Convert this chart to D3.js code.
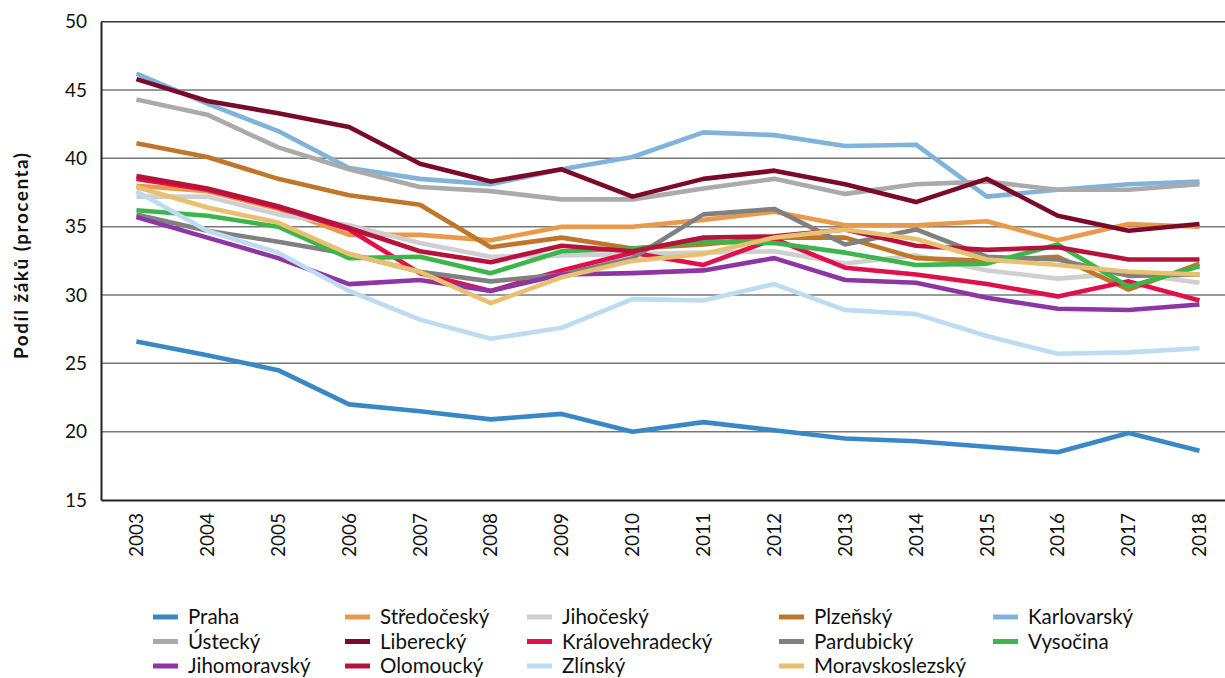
<!DOCTYPE html>
<html><head><meta charset="utf-8">
<script src="https://cdn.jsdelivr.net/npm/d3@7"></script>
<style>body{margin:0;background:#fff}svg{display:block}</style>
</head><body><svg id="c" width="1225" height="678"></svg>
<script>
const years = ["2003","2004","2005","2006","2007","2008","2009","2010","2011","2012","2013","2014","2015","2016","2017","2018"];
const yTicks = [15,20,25,30,35,40,45,50];
const regions = ["Praha","Středočeský","Jihočeský","Plzeňský","Karlovarský","Ústecký","Liberecký","Královehradecký","Pardubický","Vysočina","Jihomoravský","Olomoucký","Zlínský","Moravskoslezský"];
const colors = ["#3a87c6","#e8994a","#cfcfcf","#c0762a","#80b3dc","#aaaaaa","#7a0a2a","#e2104a","#808080","#3cb54b","#8e35a4","#b7123c","#bddbf1","#e8c070"];

const praha = [26.6,25.6,24.5,22.0,21.5,20.9,21.3,20.0,20.7,20.1,19.5,19.3,18.9,18.5,19.9,18.6];
const stredocesky = [38.0,37.6,36.3,34.4,34.4,34.0,35.0,35.0,35.5,36.1,35.1,35.1,35.4,34.0,35.2,35.0];
const jihocesky = [37.2,37.2,35.9,35.1,33.8,32.8,32.9,33.0,33.1,33.2,32.3,32.9,31.8,31.2,31.6,30.9];
const plzensky = [41.1,40.1,38.5,37.3,36.6,33.5,34.2,33.4,33.7,34.2,34.2,32.7,32.5,32.8,30.4,32.3];
const karlovarsky = [46.2,44.0,42.0,39.3,38.5,38.1,39.2,40.1,41.9,41.7,40.9,41.0,37.2,37.7,38.1,38.3];
const ustecky = [44.3,43.2,40.8,39.2,37.9,37.6,37.0,37.0,37.8,38.5,37.4,38.1,38.3,37.7,37.7,38.1];
const liberecky = [45.8,44.2,43.3,42.3,39.6,38.3,39.2,37.2,38.5,39.1,38.1,36.8,38.5,35.8,34.7,35.2];
const kralovehradecky = [38.5,37.7,36.4,34.8,31.6,30.3,31.8,33.1,32.2,34.1,32.0,31.5,30.8,29.9,31.0,29.6];
const pardubicky = [35.9,34.7,33.9,33.0,31.7,31.0,31.5,32.7,35.9,36.3,33.7,34.8,32.8,32.6,31.4,31.5];
const vysocina = [36.2,35.8,35.0,32.7,32.8,31.6,33.2,33.4,33.9,33.8,33.1,32.2,32.3,33.7,30.6,32.1];
const jihomoravsky = [35.7,34.2,32.7,30.8,31.1,30.3,31.5,31.6,31.8,32.7,31.1,30.9,29.8,29.0,28.9,29.3];
const olomoucky = [38.7,37.8,36.5,34.9,33.2,32.4,33.6,33.2,34.2,34.3,34.8,33.6,33.3,33.5,32.6,32.6];
const zlinsky = [37.6,34.7,33.1,30.3,28.2,26.8,27.6,29.7,29.6,30.8,28.9,28.6,27.0,25.7,25.8,26.1];
const moravskoslezsky = [37.9,36.4,35.3,33.0,31.7,29.4,31.3,32.5,33.0,34.2,34.8,34.1,32.6,32.2,31.7,31.5];

const seriesValues = [praha,stredocesky,jihocesky,plzensky,karlovarsky,ustecky,liberecky,kralovehradecky,pardubicky,vysocina,jihomoravsky,olomoucky,zlinsky,moravskoslezsky];

const svg = d3.select("#c");
const L = 101, T = 21.7, B = 500;
const x = d3.scaleBand().domain(years).range([L, L + 16*70.87]).padding(0);
const y = d3.scaleLinear().domain([15,50]).range([B, T]);
const font = "Lato, 'Liberation Sans', sans-serif";

// gridlines
svg.append("g").selectAll("line").data(yTicks.filter(d=>d>15)).join("line")
  .attr("x1", L).attr("x2", 1225).attr("y1", d=>y(d)).attr("y2", d=>y(d))
  .attr("stroke", d=> d===50 ? "#333" : "#777").attr("stroke-width", 1.5);

// y axis
const yAxis = svg.append("g").attr("transform",`translate(${L},0)`)
  .call(d3.axisLeft(y).tickValues(yTicks).tickSize(0).tickPadding(14));
yAxis.select(".domain").attr("stroke","#222").attr("stroke-width",2);
yAxis.selectAll("text").attr("font-family",font).attr("font-size",19).attr("fill","#111");

// x axis
const xAxis = svg.append("g").attr("transform",`translate(0,${B})`)
  .call(d3.axisBottom(x).tickSize(0));
xAxis.select(".domain").attr("stroke","#222").attr("stroke-width",2);
xAxis.selectAll("text").attr("font-family",font).attr("font-size",19).attr("fill","#111")
  .attr("transform","rotate(-90)").attr("text-anchor","end").attr("dy","0.35em").attr("x",-13).attr("y",0);

// y title
svg.append("text").attr("transform","translate(28,256) rotate(-90)").attr("text-anchor","middle")
  .attr("font-family",font).attr("font-weight","bold").attr("font-size",19).attr("fill","#111")
  .attr("textLength",206).attr("lengthAdjust","spacing")
  .text("Podíl žáků (procenta)");

// lines
const line = d3.line().x((d,i)=>x(years[i]) + x.bandwidth()/2).y(d=>y(d));
svg.append("g").selectAll("path").data(seriesValues).join("path")
  .attr("d", d=>line(d)).attr("fill","none")
  .attr("stroke",(d,i)=>colors[i]).attr("stroke-width",4.6)
  .attr("stroke-linejoin","round");

// legend
const colX = [153, 345, 527, 779, 993];
const rowY = [617, 641.5, 666];
const lg = svg.append("g").selectAll("g").data(regions).join("g")
  .attr("transform",(d,i)=>`translate(${colX[i%5]},${rowY[Math.floor(i/5)]})`);
lg.append("line").attr("x1",0).attr("x2",25).attr("y1",0).attr("y2",0)
  .attr("stroke",(d,i)=>colors[i]).attr("stroke-width",5);
lg.append("text").attr("x",35).attr("dy","0.35em").attr("font-family",font).attr("font-size",20.5)
  .attr("fill","#111").text(d=>d);
</script></body></html>
